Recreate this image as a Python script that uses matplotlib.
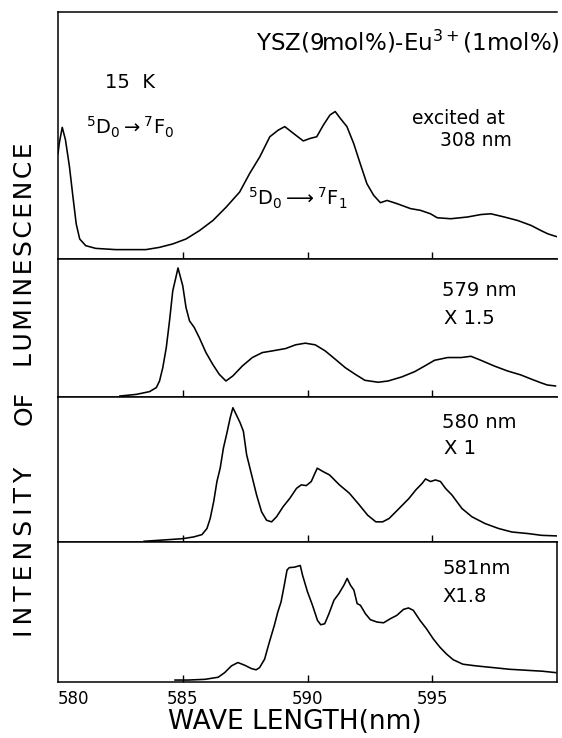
import matplotlib
matplotlib.use("Agg")
import matplotlib.pyplot as plt

W, H = 562, 738

# ---- data (wavelength nm, relative intensity 0-100 of each panel) ----
wl_308 = [580.0, 580.05, 580.17, 580.30, 580.46, 580.60, 580.73, 580.87, 581.11, 581.51,
          582.32, 583.52, 584.06, 584.60, 585.13, 585.67, 586.21, 586.74, 587.28, 587.68,
          588.09, 588.49, 588.83, 589.09, 589.43, 589.83, 590.10, 590.37, 590.64, 590.90,
          591.11, 591.31, 591.58, 591.85, 592.11, 592.38, 592.65, 592.92, 593.19, 593.59,
          594.13, 594.53, 594.93, 595.20, 595.74, 596.41, 596.95, 597.35, 597.89, 598.42,
          598.96, 599.36, 599.63, 599.97]
int_308 = [42.7, 46.8, 53.3, 48.2, 37.3, 25.1, 14.2, 8.1, 5.4, 4.3,
           3.8, 3.8, 4.7, 6.1, 8.1, 11.5, 15.6, 21.0, 27.1, 34.6,
           41.4, 49.5, 52.2, 53.6, 50.9, 47.8, 48.8, 49.5, 54.3, 58.3,
           59.7, 57.0, 53.6, 46.8, 38.7, 30.5, 25.8, 22.8, 23.7, 22.4,
           20.4, 19.7, 18.3, 16.7, 16.3, 17.0, 18.0, 18.3, 17.0, 15.6,
           13.6, 11.5, 10.2, 9.1]

wl_579 = [582.48, 583.14, 583.67, 583.94, 584.07, 584.20, 584.34, 584.47, 584.60, 584.71,
          584.81, 584.91, 585.00, 585.13, 585.27, 585.46, 585.66, 585.93, 586.20, 586.46,
          586.73, 587.01, 587.39, 587.79, 588.19, 588.59, 589.12, 589.52, 589.91, 590.31,
          590.71, 591.11, 591.51, 591.91, 592.30, 592.83, 593.23, 593.77, 594.30, 594.70,
          595.09, 595.62, 596.16, 596.55, 596.95, 597.48, 598.01, 598.55, 598.95, 599.34,
          599.61, 599.94]
int_579 = [0.7, 1.9, 3.9, 6.8, 11.6, 21.3, 35.8, 55.2, 77.0, 85.5,
           93.5, 86.7, 80.6, 64.9, 55.2, 50.4, 43.1, 32.2, 23.7, 16.5,
           11.6, 15.3, 22.5, 28.6, 32.2, 33.4, 35.1, 37.8, 39.0, 37.8,
           33.4, 27.4, 21.3, 16.5, 12.1, 10.7, 11.6, 14.5, 18.4, 22.5,
           26.6, 28.6, 28.6, 29.5, 26.6, 22.5, 18.9, 16.0, 13.1, 10.4,
           8.7, 8.0]

wl_580 = [583.45, 584.24, 585.00, 585.44, 585.77, 585.97, 586.10, 586.24, 586.37, 586.50,
          586.63, 586.77, 586.90, 587.01, 587.14, 587.30, 587.43, 587.56, 587.76, 587.96,
          588.16, 588.36, 588.56, 588.76, 589.02, 589.29, 589.56, 589.75, 589.95, 590.15,
          590.39, 590.62, 590.88, 591.28, 591.68, 592.08, 592.41, 592.74, 593.01, 593.27,
          593.67, 594.07, 594.34, 594.60, 594.73, 594.93, 595.13, 595.33, 595.53, 595.79,
          596.19, 596.59, 597.12, 597.66, 598.19, 598.85, 599.38, 599.98]
int_580 = [0.5, 1.4, 2.3, 3.5, 5.1, 9.3, 16.2, 27.8, 41.7, 50.9,
           64.8, 75.2, 85.6, 92.6, 88.0, 82.2, 76.4, 60.2, 46.3, 32.4,
           20.8, 15.0, 13.9, 17.4, 24.3, 30.1, 37.0, 39.4, 38.9, 41.7,
           50.9, 48.6, 46.3, 39.4, 33.6, 25.5, 18.5, 13.9, 13.9, 16.2,
           23.1, 30.1, 35.9, 40.5, 43.5, 41.7, 42.8, 41.7, 37.0, 32.4,
           23.1, 17.4, 12.7, 9.3, 6.9, 5.8, 4.6, 4.2]

wl_581 = [584.69, 585.23, 585.89, 586.42, 586.68, 586.95, 587.21, 587.48, 587.75, 587.94,
          588.08, 588.28, 588.47, 588.67, 588.81, 588.94, 589.07, 589.18, 589.27, 589.47,
          589.71, 589.80, 590.00, 590.20, 590.40, 590.53, 590.69, 590.86, 591.06, 591.26,
          591.46, 591.59, 591.72, 591.86, 591.99, 592.12, 592.32, 592.52, 592.79, 593.05,
          593.32, 593.58, 593.85, 594.05, 594.24, 594.51, 594.77, 595.04, 595.31, 595.57,
          595.84, 596.23, 596.76, 597.43, 598.09, 598.75, 599.42, 599.95]
int_581 = [1.4, 1.4, 1.9, 3.4, 6.7, 11.5, 13.9, 12.0, 9.6, 8.7,
           10.3, 16.3, 28.4, 40.4, 50.0, 57.2, 69.2, 80.0, 81.7, 82.0,
           83.2, 76.4, 64.4, 54.8, 44.0, 40.9, 41.6, 48.8, 58.4, 63.2,
           69.2, 74.0, 69.2, 65.6, 56.0, 54.8, 48.8, 44.5, 42.8, 42.3,
           45.2, 47.6, 51.9, 52.9, 51.2, 44.0, 38.0, 30.8, 24.8, 20.0,
           15.9, 12.7, 11.5, 10.3, 9.1, 8.4, 7.7, 6.7]

xticks = [580, 585, 590, 595]

# panel edges in pixels (top, bottom) from top of image
LEFT, RIGHT = 58, 557
PANELS = [(12, 259), (259, 397), (397, 542), (542, 682)]

fig = plt.figure(figsize=(W / 100, H / 100), dpi=100)

series = [(wl_308, int_308), (wl_579, int_579), (wl_580, int_580), (wl_581, int_581)]
axes = []
for i, ((top, bot), (x, y)) in enumerate(zip(PANELS, series)):
    ax = fig.add_axes([LEFT / W, (H - bot) / H, (RIGHT - LEFT) / W, (bot - top) / H])
    ax.plot(x, y, color="black", linewidth=1.15)
    ax.set_xlim(580, 600)
    ax.set_ylim(0, 100)
    ax.set_yticks([])
    ax.set_xticks(xticks[1:])
    ax.tick_params(axis="x", direction="in", length=5, width=1, labelbottom=False)
    for s in ax.spines.values():
        s.set_linewidth(1.1)
    if i < 3:
        ax.spines["right"].set_visible(False)
    axes.append(ax)

# bottom axis labels
ax = axes[-1]
ax.set_xticks(xticks)
ax.tick_params(axis="x", labelbottom=True, labelsize=12, pad=6)
ax.set_xticklabels([str(t) for t in xticks])
ax.get_xticklabels()[0].set_horizontalalignment("left")
ax.xaxis.get_major_ticks()[0].tick1line.set_visible(False)


def ftext(x, y, s, **kw):
    fig.text(x / W, 1 - y / H, s, **kw)


ftext(560, 42, r"YSZ(9mol%)-Eu$^{3+}$(1mol%)", fontsize=16.5, ha="right", va="center")
ftext(105, 82, "15  K", fontsize=14, va="center")
ftext(86, 127, r"$^5$D$_0$$\rightarrow$$^7$F$_0$", fontsize=14, va="center")
ftext(458, 118, "excited at", fontsize=13.5, ha="center", va="center")
ftext(476, 140, "308 nm", fontsize=13.5, ha="center", va="center")
ftext(248, 198, r"$^5$D$_0$$\longrightarrow$$^7$F$_1$", fontsize=14, va="center")

ftext(442, 290, "579 nm", fontsize=14, va="center")
ftext(444, 318, "X 1.5", fontsize=14, va="center")
ftext(442, 423, "580 nm", fontsize=14, va="center")
ftext(444, 449, "X 1", fontsize=14, va="center")
ftext(442, 569, "581nm", fontsize=14, va="center")
ftext(442, 597, "X1.8", fontsize=14, va="center")

# y label words, letter-spaced like the original
ftext(25, 552, "\u2009".join("INTENSITY"), fontsize=18, rotation=90, ha="center", va="center")
ftext(25, 408, "OF", fontsize=18, rotation=90, ha="center", va="center")
ftext(25, 255, "\u200a".join("LUMINESCENCE"), fontsize=18, rotation=90, ha="center", va="center")
ftext(295, 722, "WAVE LENGTH(nm)", fontsize=19, ha="center", va="center")

fig.savefig("out.png", dpi=100)
